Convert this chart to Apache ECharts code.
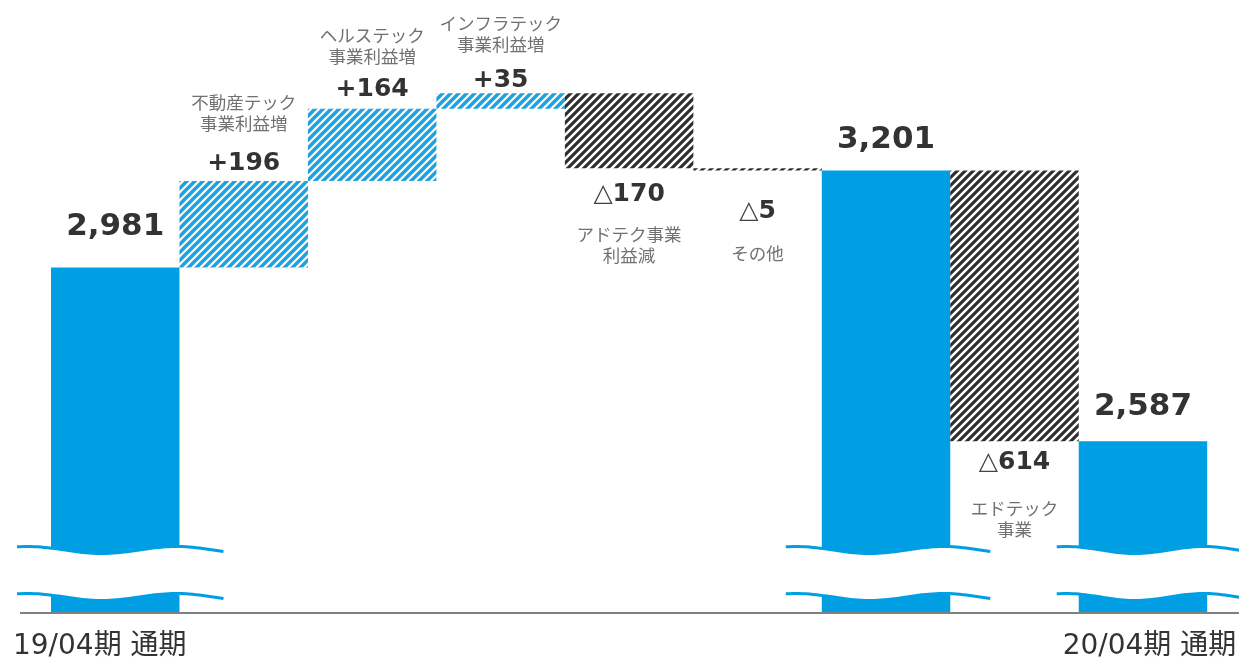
<!DOCTYPE html>
<html>
<head>
<meta charset="utf-8">
<script src="https://cdn.jsdelivr.net/npm/echarts@6/dist/echarts.min.js"></script>
<style>
  html, body { margin: 0; padding: 0; background: #ffffff; }
  #chart { width: 1239px; height: 662px; }
</style>
</head>
<body>
<div id="chart"></div>
<script>
// Operating profit bridge (waterfall), 19/04 → 20/04
const tickLabels = ['19/04期 通期', '', '', '', '', '', '', '', '20/04期 通期'];
const kinds = ['total', 'up', 'up', 'up', 'down', 'down', 'total', 'down', 'total'];
const amounts = [2981, 196, 164, 35, 170, 5, 3201, 614, 2587];
const notes = ['', '不動産テック\n事業利益増', 'ヘルステック\n事業利益増', 'インフラテック\n事業利益増',
               'アドテク事業\n利益減', 'その他', '', 'エドテック\n事業', ''];

// label spacing (px) between each bar and its texts
const valueGap = [25, 5, 6, 0, 13, 28, 15, 8, 18];
const noteGap = [0, 47, 41, 38, 55, 72, 0, 56, 0];

const AXIS_MIN = 2200;
const AXIS_MAX = 3565;
const BLUE = '#009fe3';
const TEXT = '#333333';

// diagonal hatch tiles
function hatch(color, width) {
  const c = document.createElement('canvas');
  c.width = 8; c.height = 8;
  const g = c.getContext('2d');
  g.fillStyle = '#ffffff';
  g.fillRect(0, 0, 8, 8);
  g.strokeStyle = color;
  g.lineWidth = width;
  g.beginPath();
  g.moveTo(-2, 2); g.lineTo(2, -2);
  g.moveTo(0, 8); g.lineTo(8, 0);
  g.moveTo(6, 10); g.lineTo(10, 6);
  g.stroke();
  return { image: c, repeat: 'repeat' };
}
const blueHatch = hatch('#1aa3e0', 3.4);
const darkHatch = hatch('#2e2e2e', 3.1);

// running totals → invisible base + visible segment
const base = [], totalVals = [], upVals = [], downVals = [], notePoints = [];
let running = 0;
kinds.forEach((k, i) => {
  const v = amounts[i];
  if (k === 'total') {
    running = v; base.push(0);
    totalVals.push({ value: v, label: { distance: valueGap[i] } });
    upVals.push('-'); downVals.push('-');
  } else if (k === 'up') {
    base.push(running);
    upVals.push({ value: v, label: { distance: valueGap[i] } });
    running += v;
    totalVals.push('-'); downVals.push('-');
    notePoints.push({ value: [i, running], label: { position: 'top', distance: noteGap[i] } });
  } else {
    running -= v; base.push(running);
    downVals.push({ value: v, label: { distance: valueGap[i] } });
    totalVals.push('-'); upVals.push('-');
    notePoints.push({ value: [i, running], label: { position: 'bottom', distance: noteGap[i] } });
  }
});

const numRich = {
  tot: { fontFamily: 'DejaVu Sans', fontWeight: 'bold', fontSize: 31, lineHeight: 32, color: TEXT },
  num: { fontFamily: 'DejaVu Sans', fontWeight: 'bold', fontSize: 25, lineHeight: 26, color: TEXT },
  tri: { fontFamily: 'DejaVu Sans', fontWeight: 'normal', fontSize: 25, lineHeight: 26, color: '#444444' }
};

const chart = echarts.init(document.getElementById('chart'), null, { renderer: 'canvas' });

chart.setOption({
  animation: false,
  backgroundColor: '#ffffff',
  grid: { left: 51, right: 27, top: 10, bottom: 50 },
  xAxis: {
    type: 'category',
    data: tickLabels,
    axisLine: { show: false },
    axisTick: { show: false },
    axisLabel: {
      interval: 0,
      margin: 20,
      formatter: (v, i) => (i === 0 ? '{a|' + v + '}' : (v ? '{b|' + v + '}' : '')),
      rich: {
        a: { fontFamily: 'DejaVu Sans, Noto Sans CJK JP', fontSize: 28, lineHeight: 30, color: TEXT, padding: [0, 31, 0, 0] },
        b: { fontFamily: 'DejaVu Sans, Noto Sans CJK JP', fontSize: 28, lineHeight: 30, color: TEXT, padding: [0, 0, 0, 13] }
      }
    }
  },
  yAxis: {
    type: 'value', min: AXIS_MIN, max: AXIS_MAX, show: false,
    splitLine: { show: false }
  },
  series: [
    {
      type: 'bar', stack: 'w', data: base, barCategoryGap: '0%',
      itemStyle: { color: 'rgba(0,0,0,0)' }, silent: true
    },
    {
      type: 'bar', stack: 'w', data: totalVals,
      itemStyle: { color: BLUE },
      label: {
        show: true, position: 'top',
        formatter: p => '{tot|' + p.value.toLocaleString('en-US') + '}',
        rich: numRich
      }
    },
    {
      type: 'bar', stack: 'w', data: upVals,
      itemStyle: { color: blueHatch },
      label: {
        show: true, position: 'top',
        formatter: p => '{num|+' + p.value + '}',
        rich: numRich
      }
    },
    {
      type: 'bar', stack: 'w', data: downVals,
      itemStyle: { color: darkHatch },
      label: {
        show: true, position: 'bottom',
        formatter: p => '{tri|△}{num|' + p.value + '}',
        rich: numRich
      }
    },
    {
      type: 'scatter', data: notePoints, symbolSize: 1, silent: true,
      itemStyle: { color: 'rgba(0,0,0,0)' },
      label: {
        show: true,
        formatter: p => notes[p.value[0]],
        fontFamily: 'Noto Sans CJK JP', fontSize: 17.5, lineHeight: 21,
        color: '#4d4d4d', align: 'center'
      }
    }
  ]
});

// axis break waves on the full-year bars, plus the baseline
const xAt = i => chart.convertToPixel({ xAxisIndex: 0 }, i);
const baseY = chart.convertToPixel({ yAxisIndex: 0 }, AXIS_MIN);
const halfW = (xAt(1) - xAt(0)) / 2;
const waveExt = { 0: [34, 44], 6: [36, 40], 8: [22, 40] };

function wave(left, right, yc) {
  const pts = [];
  const n = 60;
  for (let k = 0; k <= n; k++) {
    const t = k / n;
    pts.push([left + t * (right - left), yc - 3.5 * Math.cos(2 * Math.PI * (t - 0.05) / 0.72)]);
  }
  return pts;
}

const graphics = [];
Object.keys(waveExt).forEach(key => {
  const i = +key;
  const left = xAt(i) - halfW - waveExt[i][0];
  const right = xAt(i) + halfW + waveExt[i][1];
  const top = wave(left, right, baseY - 62);
  const bot = wave(left, right, baseY - 15);
  graphics.push({
    type: 'polygon', z: 100,
    shape: { points: top.concat(bot.slice().reverse()) },
    style: { fill: '#ffffff' }
  });
  [top, bot].forEach(pts => graphics.push({
    type: 'polyline', z: 101,
    shape: { points: pts },
    style: { stroke: BLUE, lineWidth: 3, fill: null }
  }));
});
graphics.push({
  type: 'line', z: 102,
  shape: { x1: xAt(0) - halfW - 31, y1: baseY + 1, x2: 1239, y2: baseY + 1 },
  style: { stroke: '#808080', lineWidth: 2 }
});
chart.setOption({ graphic: graphics });
</script>
</body>
</html>
